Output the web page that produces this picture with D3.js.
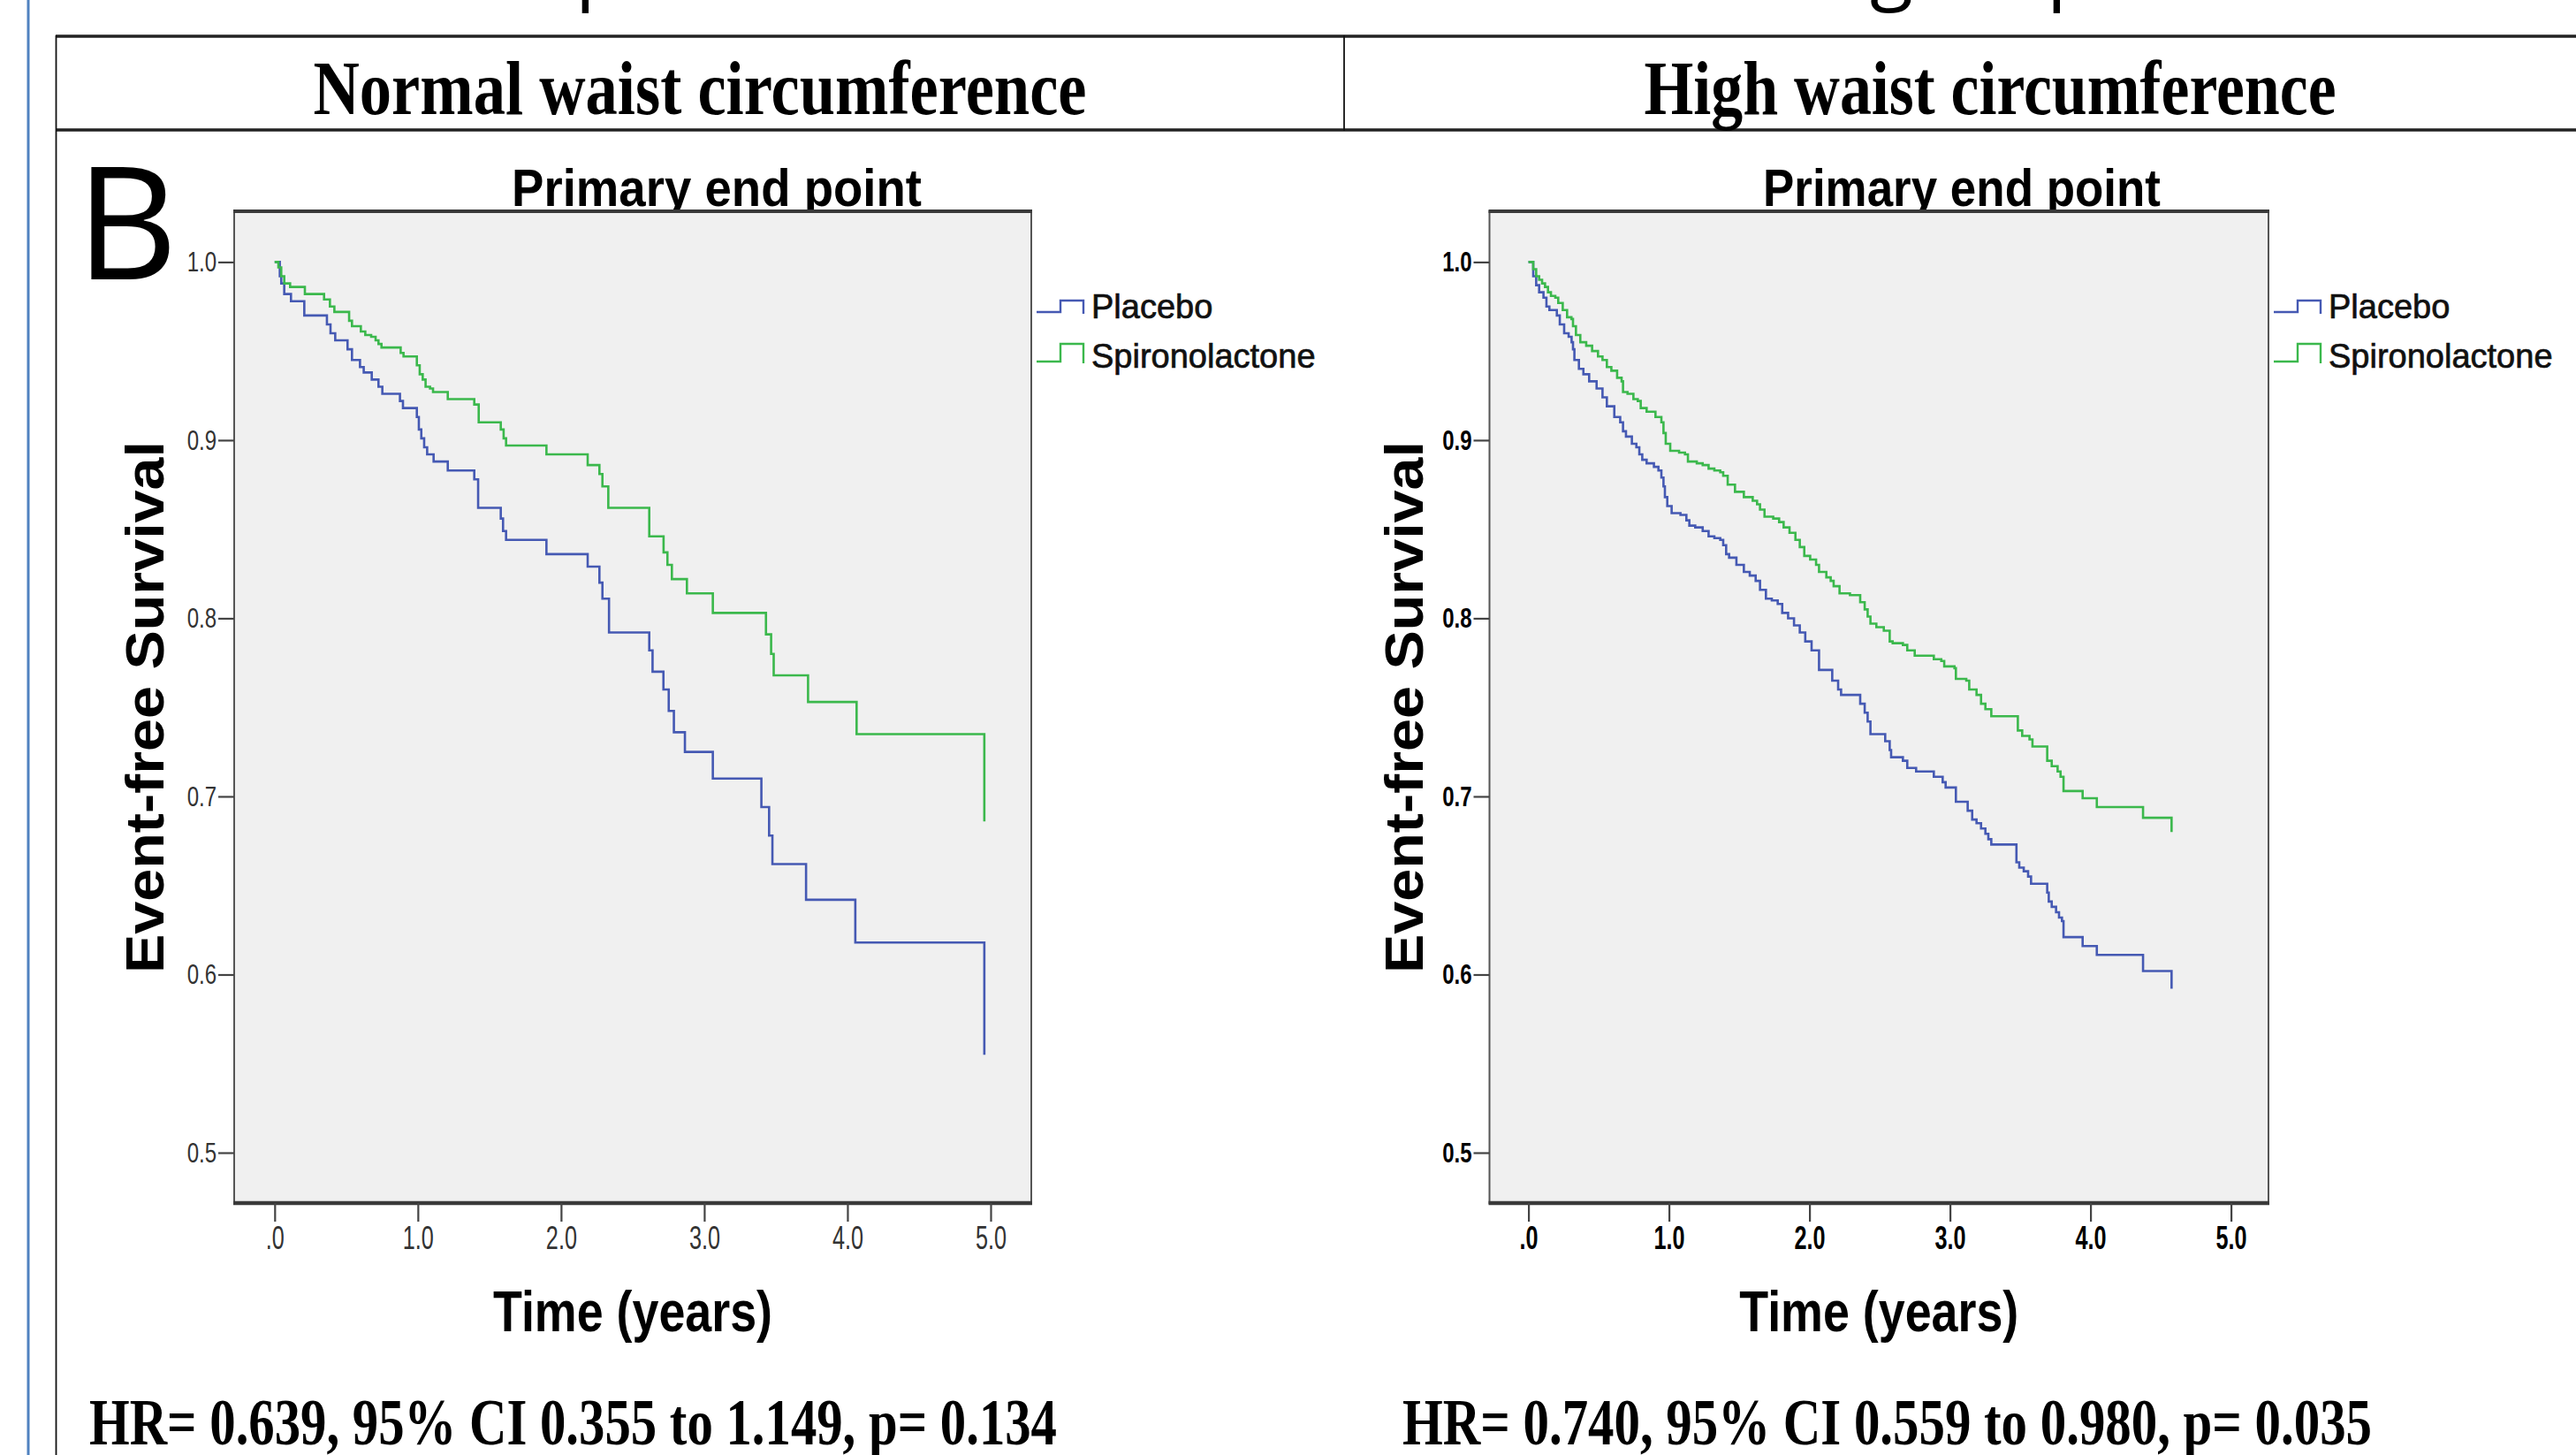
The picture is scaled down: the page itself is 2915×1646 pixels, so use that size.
<!DOCTYPE html>
<html>
<head>
<meta charset="utf-8">
<script src="https://cdn.jsdelivr.net/npm/d3@7"></script>
<style>
  body { margin: 0; background: #fff; }
  svg { display: block; }
</style>
</head>
<body>
<div id="chart"></div>
<script>
// ---- data ----
const groupNames = ['Normal waist circumference', 'High waist circumference']
const panelTitle = 'Primary end point'
const seriesNames = ['Placebo', 'Spironolactone']
const hrLabels = [
  'HR= 0.639, 95% CI 0.355 to 1.149, p= 0.134',
  'HR= 0.740, 95% CI 0.559 to 0.980, p= 0.035'
]
const xTicks = [0, 1, 2, 3, 4, 5]
const xTickLabels = ['.0', '1.0', '2.0', '3.0', '4.0', '5.0']
const yTicks = [0.5, 0.6, 0.7, 0.8, 0.9, 1.0]

// normal waist, placebo
const normalPlaceboT = [0, 0.036, 0.046, 0.067, 0.114, 0.207, 0.365, 0.390, 0.423, 0.509, 0.540, 0.596, 0.622, 0.678, 0.725, 0.752, 0.875, 0.896, 0.993, 1.007, 1.024, 1.044, 1.065, 1.110, 1.209, 1.394, 1.421, 1.579, 1.595, 1.616, 1.898, 2.186, 2.268, 2.289, 2.335, 2.616, 2.639, 2.715, 2.752, 2.788, 2.865, 3.060, 3.399, 3.453, 3.476, 3.711, 4.055, 4.956]
const normalPlaceboS = [1.0, 0.992, 0.988, 0.982, 0.978, 0.970, 0.965, 0.960, 0.956, 0.951, 0.945, 0.941, 0.938, 0.934, 0.930, 0.926, 0.922, 0.918, 0.913, 0.906, 0.901, 0.896, 0.892, 0.888, 0.883, 0.878, 0.862, 0.856, 0.849, 0.844, 0.836, 0.829, 0.820, 0.811, 0.792, 0.782, 0.770, 0.760, 0.748, 0.736, 0.725, 0.710, 0.694, 0.678, 0.662, 0.642, 0.618, 0.555]

// normal waist, spironolactone
const normalSpiroT = [0, 0.026, 0.046, 0.067, 0.108, 0.211, 0.345, 0.386, 0.417, 0.520, 0.540, 0.602, 0.633, 0.674, 0.705, 0.725, 0.746, 0.880, 0.900, 0.993, 1.013, 1.034, 1.054, 1.085, 1.106, 1.209, 1.394, 1.425, 1.579, 1.599, 1.616, 1.898, 2.186, 2.268, 2.289, 2.330, 2.616, 2.716, 2.743, 2.774, 2.879, 3.060, 3.431, 3.467, 3.485, 3.725, 4.064, 4.956]
const normalSpiroS = [1.0, 0.997, 0.992, 0.988, 0.986, 0.982, 0.979, 0.975, 0.972, 0.967, 0.964, 0.961, 0.959, 0.958, 0.956, 0.954, 0.952, 0.949, 0.947, 0.942, 0.937, 0.934, 0.930, 0.929, 0.927, 0.923, 0.920, 0.910, 0.906, 0.901, 0.897, 0.892, 0.886, 0.881, 0.874, 0.862, 0.846, 0.837, 0.830, 0.822, 0.814, 0.803, 0.791, 0.780, 0.768, 0.753, 0.735, 0.686]

// high waist, placebo
const highPlaceboT = [0, 0.034, 0.055, 0.076, 0.107, 0.128, 0.149, 0.202, 0.223, 0.254, 0.286, 0.307, 0.317, 0.327, 0.359, 0.391, 0.432, 0.485, 0.527, 0.558, 0.611, 0.653, 0.673, 0.694, 0.736, 0.768, 0.789, 0.810, 0.841, 0.893, 0.925, 0.946, 0.961, 0.971, 0.988, 1.019, 1.082, 1.124, 1.145, 1.187, 1.240, 1.282, 1.323, 1.365, 1.386, 1.407, 1.428, 1.480, 1.533, 1.575, 1.617, 1.648, 1.690, 1.732, 1.774, 1.806, 1.848, 1.890, 1.931, 1.970, 2.015, 2.068, 2.162, 2.204, 2.225, 2.361, 2.393, 2.414, 2.434, 2.539, 2.571, 2.581, 2.665, 2.696, 2.759, 2.885, 2.948, 2.969, 3.042, 3.126, 3.158, 3.189, 3.221, 3.252, 3.273, 3.294, 3.473, 3.493, 3.525, 3.556, 3.577, 3.692, 3.703, 3.724, 3.755, 3.776, 3.797, 3.808, 3.944, 4.045, 4.374, 4.577]
const highPlaceboS = [1.0, 0.992, 0.987, 0.983, 0.980, 0.975, 0.973, 0.970, 0.965, 0.960, 0.958, 0.955, 0.951, 0.945, 0.940, 0.937, 0.933, 0.929, 0.924, 0.919, 0.913, 0.910, 0.905, 0.902, 0.898, 0.896, 0.892, 0.889, 0.887, 0.885, 0.883, 0.879, 0.874, 0.868, 0.863, 0.859, 0.858, 0.855, 0.852, 0.851, 0.849, 0.846, 0.845, 0.844, 0.841, 0.836, 0.834, 0.830, 0.826, 0.824, 0.821, 0.816, 0.811, 0.810, 0.808, 0.803, 0.800, 0.796, 0.792, 0.787, 0.782, 0.771, 0.765, 0.760, 0.757, 0.752, 0.747, 0.742, 0.735, 0.731, 0.726, 0.722, 0.720, 0.716, 0.714, 0.711, 0.708, 0.705, 0.697, 0.692, 0.687, 0.685, 0.682, 0.679, 0.676, 0.673, 0.663, 0.660, 0.658, 0.655, 0.651, 0.646, 0.641, 0.638, 0.635, 0.632, 0.630, 0.621, 0.616, 0.611, 0.602, 0.592]

// high waist, spironolactone
const highSpiroT = [0, 0.034, 0.055, 0.076, 0.097, 0.118, 0.139, 0.160, 0.191, 0.212, 0.244, 0.275, 0.306, 0.317, 0.338, 0.369, 0.411, 0.453, 0.495, 0.527, 0.558, 0.590, 0.631, 0.663, 0.673, 0.705, 0.747, 0.778, 0.799, 0.841, 0.904, 0.946, 0.961, 0.977, 1.009, 1.072, 1.114, 1.135, 1.198, 1.240, 1.282, 1.323, 1.365, 1.386, 1.418, 1.470, 1.533, 1.596, 1.627, 1.648, 1.680, 1.742, 1.784, 1.816, 1.858, 1.900, 1.931, 1.963, 2.005, 2.047, 2.068, 2.120, 2.151, 2.172, 2.214, 2.288, 2.361, 2.393, 2.414, 2.434, 2.476, 2.529, 2.571, 2.592, 2.665, 2.696, 2.749, 2.885, 2.938, 2.959, 3.032, 3.042, 3.116, 3.137, 3.189, 3.221, 3.252, 3.294, 3.483, 3.514, 3.566, 3.587, 3.692, 3.724, 3.766, 3.787, 3.808, 3.944, 4.045, 4.374, 4.577]
const highSpiroS = [1.0, 0.996, 0.992, 0.990, 0.988, 0.986, 0.983, 0.981, 0.980, 0.977, 0.973, 0.969, 0.968, 0.964, 0.959, 0.955, 0.953, 0.950, 0.947, 0.945, 0.941, 0.939, 0.935, 0.933, 0.927, 0.926, 0.923, 0.922, 0.918, 0.916, 0.913, 0.910, 0.904, 0.898, 0.894, 0.893, 0.892, 0.888, 0.887, 0.886, 0.884, 0.883, 0.882, 0.880, 0.875, 0.871, 0.868, 0.866, 0.864, 0.861, 0.857, 0.856, 0.854, 0.851, 0.848, 0.844, 0.840, 0.835, 0.833, 0.830, 0.826, 0.823, 0.821, 0.818, 0.814, 0.813, 0.809, 0.805, 0.801, 0.797, 0.795, 0.793, 0.787, 0.786, 0.785, 0.782, 0.779, 0.777, 0.776, 0.773, 0.772, 0.766, 0.765, 0.760, 0.757, 0.752, 0.749, 0.745, 0.737, 0.734, 0.732, 0.728, 0.720, 0.717, 0.714, 0.711, 0.703, 0.699, 0.694, 0.688, 0.680]

// ---- page ----
const W = 2915
const H = 1646
const SANS = 'Liberation Sans, Arial, sans-serif'
const SERIF = 'Liberation Serif, Times New Roman, serif'
const colors = ['#4559b3', '#3bb84c']

const svg = d3.select('#chart')
  .append('svg')
  .attr('width', W)
  .attr('height', H)

//squeeze text to a given width, the source picture is horizontally compressed
function fitTo(sel, w) {
  sel.attr('textLength', w).attr('lengthAdjust', 'spacingAndGlyphs')
}
function squeeze(sel, k) {
  sel.each(function() {
    const n = this.getComputedTextLength()
    d3.select(this).attr('textLength', n * k).attr('lengthAdjust', 'spacingAndGlyphs')
  })
}

// slide fragments cut off at the top edge
svg.append('text').attr('x', 651).attr('y', -7)
  .style('font-family', 'Open Sans, sans-serif').style('font-size', '90px').text('p')
svg.append('text').attr('x', 2116).attr('y', -7)
  .style('font-family', 'Open Sans, sans-serif').style('font-size', '90px').text('g')
svg.append('text').attr('x', 2316).attr('y', -7)
  .style('font-family', 'Open Sans, sans-serif').style('font-size', '90px').text('p')

// blue slide border
svg.append('line')
  .attr('x1', 32).attr('x2', 32).attr('y1', 0).attr('y2', H)
  .attr('stroke', '#5082c0').attr('stroke-width', 3)

// table
const table = svg.append('g')
table.append('line').attr('x1', 63).attr('x2', 2990).attr('y1', 41).attr('y2', 41)
  .attr('stroke', '#222').attr('stroke-width', 3.5)
table.append('line').attr('x1', 63).attr('x2', 2990).attr('y1', 147).attr('y2', 147)
  .attr('stroke', '#222').attr('stroke-width', 3.5)
table.append('line').attr('x1', 63.5).attr('x2', 63.5).attr('y1', 40).attr('y2', H)
  .attr('stroke', '#111').attr('stroke-width', 1.8)
table.append('line').attr('x1', 1521).attr('x2', 1521).attr('y1', 40).attr('y2', 148)
  .attr('stroke', '#111').attr('stroke-width', 1.8)

const headerX = [792, 2252]
const headerW = [875, 783]
groupNames.forEach((name, i) => {
  table.append('text')
    .attr('x', headerX[i]).attr('y', 129)
    .attr('text-anchor', 'middle')
    .style('font-family', SERIF).style('font-weight', 'bold').style('font-size', '86px')
    .text(name)
    .call(fitTo, headerW[i])
})

// big panel letter
svg.append('text').attr('x', 86).attr('y', 316)
  .style('font-family', 'Open Sans, sans-serif').style('font-size', '178px')
  .text('B')

const panels = [
  {
    left: 265, right: 1167, x0: 310.8, x5: 1121,
    titleX: 811, titleW: 464, yLabX: 185, hrX: 101, hrW: 1095,
    series: [[normalPlaceboT, normalPlaceboS], [normalSpiroT, normalSpiroS]],
    tickColor: '#333', tickWeight: 'normal'
  },
  {
    left: 1685.5, right: 2567, x0: 1729.6, x5: 2524.6,
    titleX: 2220, titleW: 450, yLabX: 1610, hrX: 1587, hrW: 1097,
    series: [[highPlaceboT, highPlaceboS], [highSpiroT, highSpiroS]],
    tickColor: '#000', tickWeight: 'bold'
  }
]

const frameTop = 239
const frameBottom = 1361

panels.forEach((p, pi) => {
  const g = svg.append('g')

  // title sits behind the frame so its descenders get cut
  g.append('text')
    .attr('x', p.titleX).attr('y', 233)
    .attr('text-anchor', 'middle')
    .style('font-family', SANS).style('font-weight', 'bold').style('font-size', '60px')
    .text(panelTitle)
    .call(fitTo, p.titleW)

  g.append('rect')
    .attr('x', p.left).attr('y', frameTop)
    .attr('width', p.right - p.left).attr('height', frameBottom - frameTop)
    .attr('fill', '#f0f0f0')
    .attr('stroke', '#555').attr('stroke-width', 2)
  g.append('line').attr('x1', p.left - 1).attr('x2', p.right + 1).attr('y1', frameTop).attr('y2', frameTop)
    .attr('stroke', '#3a3a3a').attr('stroke-width', 4)
  g.append('line').attr('x1', p.left - 1).attr('x2', p.right + 1).attr('y1', frameBottom).attr('y2', frameBottom)
    .attr('stroke', '#3a3a3a').attr('stroke-width', 4.5)

  const x = d3.scaleLinear().domain([0, 5]).range([p.x0, p.x5])
  const y = d3.scaleLinear().domain([0.5, 1.0]).range([1304, 296.4])

  const yAxis = g.append('g')
    .attr('transform', `translate(${p.left},0)`)
    .call(d3.axisLeft(y).tickValues(yTicks).tickSize(18).tickPadding(2).tickFormat(d3.format('.1f')))
  yAxis.select('.domain').remove()
  yAxis.selectAll('line').attr('stroke', '#444').attr('stroke-width', 2.2)
  yAxis.selectAll('text')
    .attr('fill', p.tickColor)
    .style('font-family', SANS).style('font-size', '32px').style('font-weight', p.tickWeight)
    .call(squeeze, 0.75)

  const xAxis = g.append('g')
    .attr('transform', `translate(0,${frameBottom})`)
    .call(d3.axisBottom(x).tickValues(xTicks).tickSize(21).tickPadding(5).tickFormat((d, i) => xTickLabels[i]))
  xAxis.select('.domain').remove()
  xAxis.selectAll('line').attr('stroke', '#444').attr('stroke-width', 2.2)
  xAxis.selectAll('text')
    .attr('fill', p.tickColor)
    .style('font-family', SANS).style('font-size', '36px').style('font-weight', p.tickWeight)
    .call(squeeze, 0.7)

  // survival curves
  const line = d3.line()
    .x(d => x(d[0]))
    .y(d => y(d[1]))
    .curve(d3.curveStepAfter)
  p.series.forEach(([ts, ss], si) => {
    const pts = ts.map((t, k) => [t, ss[k]])
    g.append('path')
      .datum(pts)
      .attr('d', line)
      .attr('fill', 'none')
      .attr('stroke', colors[si])
      .attr('stroke-width', 2.6)
      .attr('stroke-linejoin', 'miter')
  })

  // legend
  const lx = p.right + 6
  const legendY = [[353, 340], [409, 389]]
  const legendBase = [360, 416]
  seriesNames.forEach((name, si) => {
    const [yb, yt] = legendY[si]
    g.append('path')
      .attr('d', `M${lx},${yb}H${lx + 27}V${yt}H${lx + 53}V${yb + 2}`)
      .attr('fill', 'none')
      .attr('stroke', colors[si])
      .attr('stroke-width', 2.4)
    g.append('text')
      .attr('x', lx + 62).attr('y', legendBase[si])
      .attr('fill', '#111')
      .attr('stroke', '#111').attr('stroke-width', 0.7)
      .style('font-family', SANS).style('font-size', '38px')
      .text(name)
  })

  // axis titles
  const cy = (frameTop + frameBottom) / 2
  g.append('text')
    .attr('transform', `translate(${p.yLabX},${cy}) rotate(-90)`)
    .attr('text-anchor', 'middle')
    .style('font-family', SANS).style('font-weight', 'bold').style('font-size', '61px')
    .text('Event-free Survival')
    .call(fitTo, 602)

  g.append('text')
    .attr('x', (p.left + p.right) / 2).attr('y', 1506)
    .attr('text-anchor', 'middle')
    .style('font-family', SANS).style('font-weight', 'bold').style('font-size', '64px')
    .text('Time (years)')
    .call(fitTo, 316)

  // hazard ratio line
  g.append('text')
    .attr('x', p.hrX).attr('y', 1634)
    .style('font-family', SERIF).style('font-weight', 'bold').style('font-size', '73px')
    .text(hrLabels[pi])
    .call(fitTo, p.hrW)
})
</script>
</body>
</html>
